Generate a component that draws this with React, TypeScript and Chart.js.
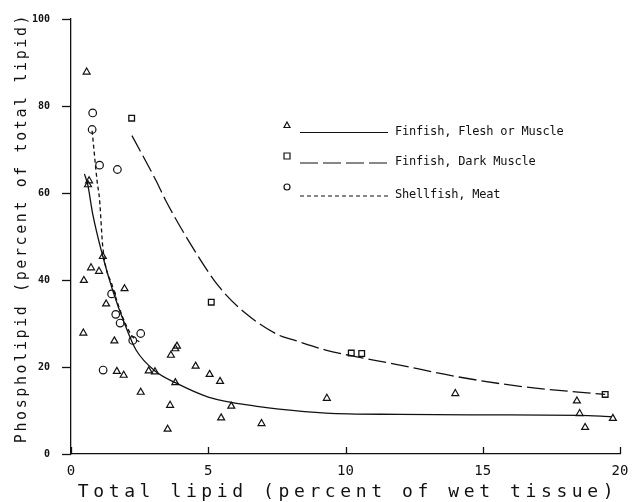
import React, { useEffect, useRef } from "react";
import { Chart, registerables } from "chart.js";

Chart.register(...registerables);

// Finfish, flesh or muscle (triangles)
const fleshX = [0.57, 0.62, 0.66, 0.47, 0.73, 1.02, 1.16, 1.95, 1.28, 0.45, 1.58, 1.67, 1.92, 2.54, 2.83, 3.06, 3.64, 3.80, 3.86, 3.80, 3.61, 3.52, 4.54, 5.05, 5.43, 5.84, 5.47, 6.94, 9.32, 14.0, 18.43, 18.53, 18.73, 19.74];
const fleshY = [87.8, 61.9, 62.8, 39.9, 42.8, 42.0, 45.4, 38.0, 34.5, 27.8, 26.0, 19.0, 18.1, 14.2, 19.1, 18.9, 22.7, 24.2, 24.8, 16.4, 11.2, 5.7, 20.2, 18.3, 16.7, 11.0, 8.3, 7.0, 12.8, 13.9, 12.2, 9.3, 6.1, 8.2];

// Finfish, dark muscle (squares)
const darkX = [2.21, 5.11, 10.21, 10.59, 19.46];
const darkY = [77.2, 34.9, 23.2, 23.1, 13.7];

// Shellfish, meat (circles)
const shellX = [0.79, 0.77, 1.04, 1.69, 1.48, 1.63, 1.79, 2.25, 2.54, 1.17];
const shellY = [78.4, 74.6, 66.4, 65.4, 36.8, 32.1, 30.1, 26.1, 27.7, 19.3];

// Fitted curves
const fleshCurveX = [0.49, 0.61, 0.79, 1.16, 1.52, 1.95, 2.37, 3.1, 3.8, 5.0, 6.85, 7.58, 9.28, 12.0, 15.0, 18.5, 19.7];
const fleshCurveY = [64.4, 61.9, 55.2, 45.4, 37.6, 30.0, 23.9, 18.9, 16.4, 13.1, 10.9, 10.3, 9.4, 9.1, 9.0, 8.9, 8.6];

const darkCurveX = [2.22, 3.1, 3.44, 4.43, 5.4, 6.37, 7.58, 8.07, 9.28, 10.2, 11.7, 14.13, 16.55, 19.46];
const darkCurveY = [73.2, 62.8, 58.4, 47.5, 38.4, 32.3, 27.3, 26.3, 23.9, 22.6, 20.8, 17.7, 15.4, 13.7];

const shellCurveX = [0.77, 0.95, 1.04, 1.16, 1.52, 1.88, 2.25, 2.49];
const shellCurveY = [74.3, 62.8, 58.5, 47.5, 38.4, 31.5, 26.9, 25.8];

const xTicks = [0, 5, 10, 15, 20];
const yTicks = [0, 20, 40, 60, 80, 100];

const legendLabels = ["Finfish, Flesh or Muscle", "Finfish, Dark Muscle", "Shellfish, Meat"];
const xTitle = "Total lipid (percent of wet tissue)";
const yTitle = "Phospholipid (percent of total lipid)";

const FONT = "'DejaVu Sans Mono', monospace";
const INK = "#111";

function pts(xs: number[], ys: number[]) {
  return xs.map((x, i) => ({ x, y: ys[i] }));
}

export default function App() {
  const ref = useRef<HTMLCanvasElement | null>(null);

  useEffect(() => {
    if (!ref.current) return;

    const overlay = {
      id: "overlay",
      afterDraw(chart: any) {
        const ctx = chart.ctx as CanvasRenderingContext2D;
        const xs = chart.scales.x;
        const ys = chart.scales.y;
        const area = chart.chartArea;
        ctx.save();
        ctx.strokeStyle = INK;
        ctx.fillStyle = INK;
        ctx.lineWidth = 1.3;
        // inward x ticks
        xTicks.forEach((v) => {
          const px = Math.round(xs.getPixelForValue(v)) + 0.5;
          ctx.beginPath();
          ctx.moveTo(px, area.bottom);
          ctx.lineTo(px, area.bottom - 7);
          ctx.stroke();
        });
        // outward y ticks
        yTicks.forEach((v) => {
          const py = Math.round(ys.getPixelForValue(v)) + 0.5;
          ctx.beginPath();
          ctx.moveTo(area.left, py);
          ctx.lineTo(area.left - 9, py);
          ctx.stroke();
        });
        // legend
        const rows = [
          { y: 132.5, marker: "tri", dash: [] as number[], my: 125 },
          { y: 163, marker: "sq", dash: [18, 5], my: 156 },
          { y: 196, marker: "circ", dash: [4, 3], my: 187 },
        ];
        rows.forEach((r, i) => {
          ctx.setLineDash([]);
          ctx.lineWidth = 1.2;
          const mx = 287;
          ctx.beginPath();
          if (r.marker === "tri") {
            ctx.moveTo(mx, r.my - 3);
            ctx.lineTo(mx + 3, r.my + 2.5);
            ctx.lineTo(mx - 3, r.my + 2.5);
            ctx.closePath();
          } else if (r.marker === "sq") {
            ctx.rect(mx - 3, r.my - 3, 6, 6);
          } else {
            ctx.arc(mx, r.my, 3, 0, Math.PI * 2);
          }
          ctx.stroke();
          ctx.setLineDash(r.dash);
          ctx.beginPath();
          ctx.moveTo(300, r.y);
          ctx.lineTo(388, r.y);
          ctx.stroke();
          ctx.setLineDash([]);
          ctx.font = `12px ${FONT}`;
          (ctx as any).letterSpacing = "-0.2px";
          ctx.textAlign = "left";
          ctx.textBaseline = "middle";
          ctx.fillText(legendLabels[i], 395, r.y - 1);
        });
        // axis titles
        ctx.font = `18px ${FONT}`;
        (ctx as any).letterSpacing = "4.6px";
        ctx.textAlign = "center";
        ctx.textBaseline = "alphabetic";
        ctx.fillText(xTitle, 348, 497);
        ctx.save();
        ctx.translate(26, 228);
        ctx.rotate(-Math.PI / 2);
        ctx.font = `15px ${FONT}`;
        (ctx as any).letterSpacing = "2.6px";
        ctx.fillText(yTitle, 0, 0);
        ctx.restore();
        ctx.restore();
      },
    };

    const chart = new Chart(ref.current, {
      type: "scatter",
      data: {
        datasets: [
          {
            label: "flesh curve",
            type: "line",
            data: pts(fleshCurveX, fleshCurveY),
            borderColor: INK,
            borderWidth: 1.3,
            pointRadius: 0,
            cubicInterpolationMode: "monotone",
            fill: false,
          } as any,
          {
            label: "dark curve",
            type: "line",
            data: pts(darkCurveX, darkCurveY),
            borderColor: INK,
            borderWidth: 1.3,
            borderDash: [18, 5],
            pointRadius: 0,
            cubicInterpolationMode: "monotone",
            fill: false,
          } as any,
          {
            label: "shell curve",
            type: "line",
            data: pts(shellCurveX, shellCurveY),
            borderColor: INK,
            borderWidth: 1.3,
            borderDash: [4, 3],
            pointRadius: 0,
            cubicInterpolationMode: "monotone",
            fill: false,
          } as any,
          {
            label: legendLabels[0],
            data: pts(fleshX, fleshY),
            pointStyle: "triangle",
            pointRadius: 4,
            borderColor: INK,
            borderWidth: 1.2,
            backgroundColor: "rgba(0,0,0,0)",
          },
          {
            label: legendLabels[1],
            data: pts(darkX, darkY),
            pointStyle: "rect",
            pointRadius: 4,
            borderColor: INK,
            borderWidth: 1.3,
            backgroundColor: "rgba(0,0,0,0)",
          },
          {
            label: legendLabels[2],
            data: pts(shellX, shellY),
            pointStyle: "circle",
            pointRadius: 3.8,
            borderColor: INK,
            borderWidth: 1.2,
            backgroundColor: "rgba(0,0,0,0)",
          },
        ],
      },
      options: {
        responsive: false,
        animation: false,
        maintainAspectRatio: false,
        layout: { padding: { top: 19, right: 16, left: 0, bottom: 0 } },
        plugins: { legend: { display: false }, tooltip: { enabled: false } },
        scales: {
          x: {
            type: "linear",
            min: 0,
            max: 20,
            afterBuildTicks: (s: any) => {
              s.ticks = xTicks.map((v) => ({ value: v }));
            },
            afterFit: (s: any) => {
              s.height = 48;
            },
            border: { color: INK, width: 1.3 },
            grid: { display: false },
            ticks: {
              color: INK,
              font: { family: FONT, size: 14 },
              padding: 1,
              maxRotation: 0,
            },
          },
          y: {
            type: "linear",
            min: 0,
            max: 100,
            afterBuildTicks: (s: any) => {
              s.ticks = yTicks.map((v) => ({ value: v }));
            },
            afterFit: (s: any) => {
              s.width = 71;
            },
            border: { color: INK, width: 1.3 },
            grid: { display: false },
            ticks: {
              color: INK,
              font: { family: FONT, size: 10, weight: "bold" },
              padding: 13,
            },
          },
        },
      },
      plugins: [overlay],
    });
    return () => chart.destroy();
  }, []);

  return (
    <div style={{ position: "absolute", left: 0, top: 0, width: 636, height: 502, background: "#fff" }}>
      <canvas ref={ref} width={636} height={502} style={{ display: "block" }} />
    </div>
  );
}
